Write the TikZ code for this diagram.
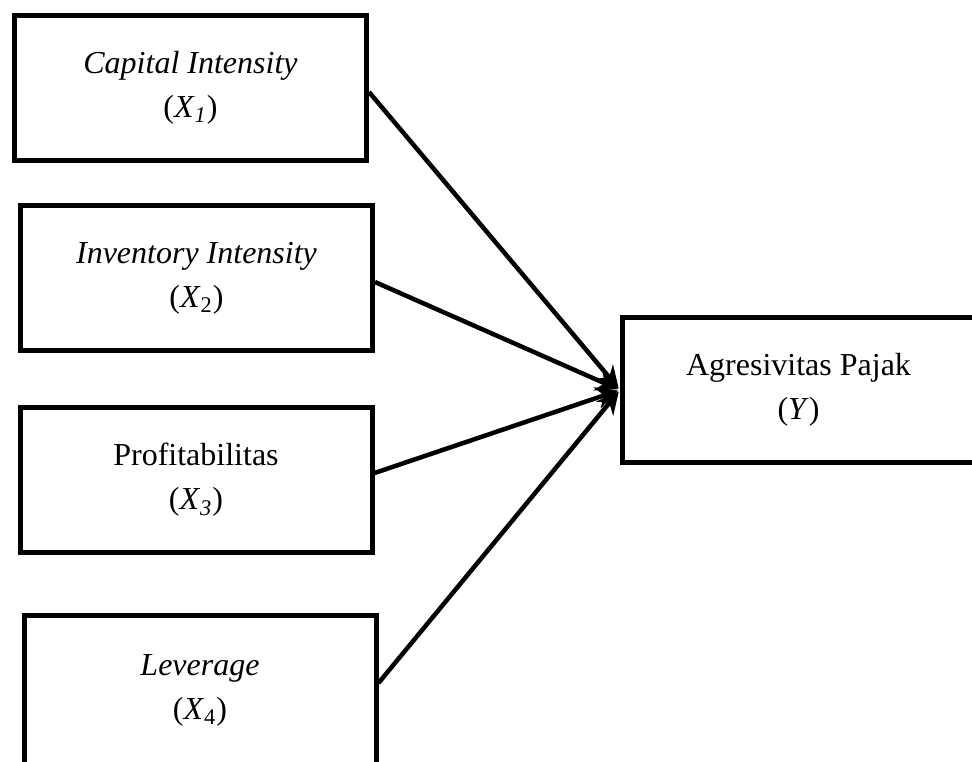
\documentclass[tikz,border=0pt]{standalone}
\usepackage{fontspec}
\setmainfont{Liberation Serif}
\usetikzlibrary{arrows.meta}
\begin{document}
\begin{tikzpicture}[x=0.5pt,y=-0.5pt,
  box/.style={draw, line width=2.5pt, minimum width=176pt, minimum height=72.5pt,
    align=center, inner sep=0pt, font=\fontsize{16}{22}\selectfont},
  arr/.style={line width=2.25pt, -{Stealth[length=11pt,width=11pt]}, shorten >=1pt}]
\useasboundingbox (0,0) rectangle (972,761);
\clip (0,0) rectangle (972,761);
\node[box] (x1) at (190.5,88) {\itshape Capital Intensity\\(\textit{X}\textsubscript{\itshape 1})};
\node[box] (x2) at (196.5,278) {\itshape Inventory Intensity\\(\textit{X}\textsubscript{2})};
\node[box] (x3) at (196,480) {Profitabilitas\\(\textit{X}\textsubscript{\itshape 3})};
\node[box, minimum height=75pt] (x4) at (200,690) {\itshape Leverage\\(\textit{X}\textsubscript{4})};
\node[box] (y) at (798.5,390) {Agresivitas Pajak\\(\textit{Y})};
\draw[arr] ([yshift=-2pt]x1.east) -- (y.west);
\draw[arr] ([yshift=-2pt]x2.east) -- (y.west);
\draw[arr] ([yshift=3.5pt]x3.east) -- (y.west);
\draw[arr] ([yshift=3.5pt]x4.east) -- (y.west);
\end{tikzpicture}
\end{document}
